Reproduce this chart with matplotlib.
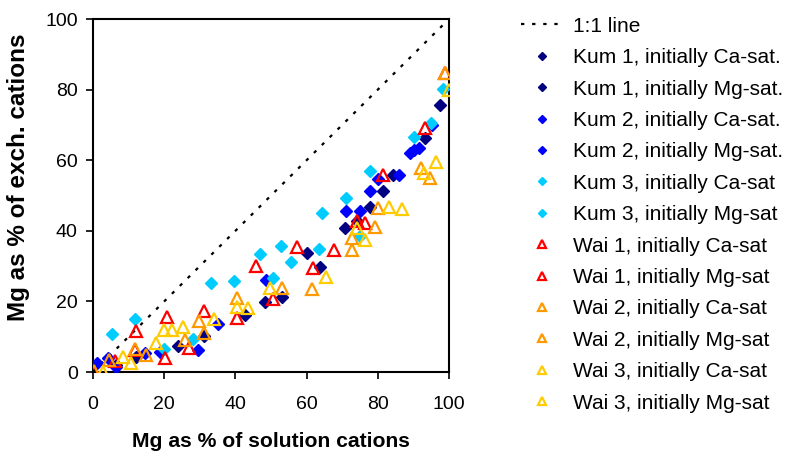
import matplotlib
matplotlib.use("Agg")
import matplotlib.pyplot as plt

plt.rcParams['font.family'] = ['Liberation Sans', 'DejaVu Sans']

# Mg as % of solution cations (x) and Mg as % of exchangeable cations (y)
kum1_ca_x = [97.4, 84.3, 77.7, 74.2, 60.1, 53.2, 42.6, 23.8, 12.2]
kum1_ca_y = [75.6, 55.8, 46.8, 42.8, 33.8, 21.3, 16.1, 7.4, 4.3]
kum1_mg_x = [93.2, 81.5, 70.7, 63.7, 48.2, 31.1, 6.5]
kum1_mg_y = [66.2, 51.3, 40.7, 29.8, 19.9, 10.2, 2.0]

kum2_ca_x = [89.0, 91.5, 80.1, 71.0, 48.6, 35.1, 14.5, 1.2, 6.5]
kum2_ca_y = [62.1, 63.6, 54.7, 45.7, 26.1, 13.6, 5.3, 2.5, 1.5]
kum2_mg_x = [90.3, 95.3, 86.0, 77.7, 75.1, 29.5, 18.7, 4.2]
kum2_mg_y = [62.9, 70.0, 55.8, 51.3, 45.7, 6.2, 5.8, 3.9]

kum3_ca_x = [98.3, 90.3, 71.0, 52.7, 55.5, 46.8, 33.2, 11.9, 28.1]
kum3_ca_y = [80.3, 66.5, 49.2, 35.7, 31.3, 33.4, 25.1, 14.9, 9.3]
kum3_mg_x = [95.0, 77.7, 64.4, 63.5, 74.9, 50.6, 39.6, 5.3, 19.9]
kum3_mg_y = [70.6, 56.9, 45.0, 34.8, 38.5, 26.5, 25.9, 10.8, 6.4]

wai1_ca_x = [99.0, 81.5, 74.3, 57.3, 61.8, 45.8, 31.3, 12.2, 27.1, 6.1]
wai1_ca_y = [84.8, 55.8, 42.8, 35.5, 29.4, 30.0, 17.4, 11.7, 6.7, 3.2]
wai1_mg_x = [93.2, 76.5, 67.7, 50.5, 40.5, 20.8, 20.3, 11.7, 0.3]
wai1_mg_y = [69.0, 42.3, 34.6, 20.6, 15.2, 15.7, 3.9, 6.2, 0.0]

wai2_ca_x = [99.0, 92.2, 80.1, 72.8, 61.6, 40.4, 29.7, 15.0, 4.4]
wai2_ca_y = [84.8, 57.7, 46.5, 37.9, 23.4, 20.9, 14.5, 4.8, 3.4]
wai2_mg_x = [94.6, 79.1, 72.8, 53.2, 25.7, 31.3, 11.9, 0.3]
wai2_mg_y = [54.9, 41.2, 34.6, 23.9, 9.1, 11.0, 6.4, 0.3]

wai3_ca_x = [100.0, 92.9, 86.8, 76.3, 49.6, 40.4, 34.1, 19.9, 17.8, 10.7]
wai3_ca_y = [79.9, 56.3, 46.2, 37.4, 23.7, 18.5, 15.0, 11.9, 8.1, 2.5]
wai3_mg_x = [96.4, 83.1, 74.2, 65.4, 43.5, 25.4, 22.3, 8.4, 2.8]
wai3_mg_y = [59.6, 46.8, 40.9, 26.8, 18.0, 12.7, 11.9, 4.3, 0.0]

line_x = [0, 100]
line_y = [0, 100]

series = [
    ("Kum 1, initially Ca-sat.", kum1_ca_x, kum1_ca_y, "#000080", "D"),
    ("Kum 1, initially Mg-sat.", kum1_mg_x, kum1_mg_y, "#000080", "D"),
    ("Kum 2, initially Ca-sat.", kum2_ca_x, kum2_ca_y, "#0000FF", "D"),
    ("Kum 2, initially Mg-sat.", kum2_mg_x, kum2_mg_y, "#0000FF", "D"),
    ("Kum 3, initially Ca-sat", kum3_ca_x, kum3_ca_y, "#00CCFF", "D"),
    ("Kum 3, initially Mg-sat", kum3_mg_x, kum3_mg_y, "#00CCFF", "D"),
    ("Wai 1, initially Ca-sat", wai1_ca_x, wai1_ca_y, "#FF0000", "^"),
    ("Wai 1, initially Mg-sat", wai1_mg_x, wai1_mg_y, "#FF0000", "^"),
    ("Wai 2, initially Ca-sat", wai2_ca_x, wai2_ca_y, "#FF9900", "^"),
    ("Wai 2, initially Mg-sat", wai2_mg_x, wai2_mg_y, "#FF9900", "^"),
    ("Wai 3, initially Ca-sat", wai3_ca_x, wai3_ca_y, "#FFCC00", "^"),
    ("Wai 3, initially Mg-sat", wai3_mg_x, wai3_mg_y, "#FFCC00", "^"),
]

fig = plt.figure(figsize=(7.91, 4.54), dpi=100)
ax = fig.add_axes([0.1176, 0.1806, 0.4500, 0.7775])

ax.plot(line_x, line_y, color="black", linestyle=(0, (1.5, 3.5)), linewidth=1.6,
        label="1:1 line", zorder=2)

for label, xs, ys, color, marker in series:
    if marker == "D":
        ax.plot(xs, ys, linestyle="none", marker="D", markersize=6.4,
                markerfacecolor=color, markeredgecolor=color, label=label, zorder=3)
    else:
        ax.plot(xs, ys, linestyle="none", marker="^", markersize=8.5,
                markerfacecolor="none", markeredgecolor=color, markeredgewidth=1.6,
                label=label, zorder=4)

ax.set_xlim(0, 100)
ax.set_ylim(0, 100)
ax.set_xticks([0, 20, 40, 60, 80, 100])
ax.set_yticks([0, 20, 40, 60, 80, 100])
ax.tick_params(direction="out", length=5, width=1.2, labelsize=14,
               top=False, right=False)
ax.tick_params(axis="y", pad=6)
ax.tick_params(axis="x", pad=12)
for sp in ax.spines.values():
    sp.set_linewidth(1.5)
    sp.set_color("black")

ax.set_xlabel("Mg as % of solution cations", fontsize=15.2, fontweight="bold")
ax.set_ylabel("Mg as % of exch. cations", fontsize=17.5, fontweight="bold")
ax.xaxis.set_label_coords(0.501, -0.17)
ax.yaxis.set_label_coords(-0.177, 0.552)

leg = ax.legend(loc="upper left", bbox_to_anchor=(1.18, 1.03), frameon=False,
                fontsize=15.0, markerscale=0.62, handlelength=2.0, handletextpad=0.5,
                labelspacing=0.595, borderaxespad=0)

fig.savefig("out.png", dpi=100)
